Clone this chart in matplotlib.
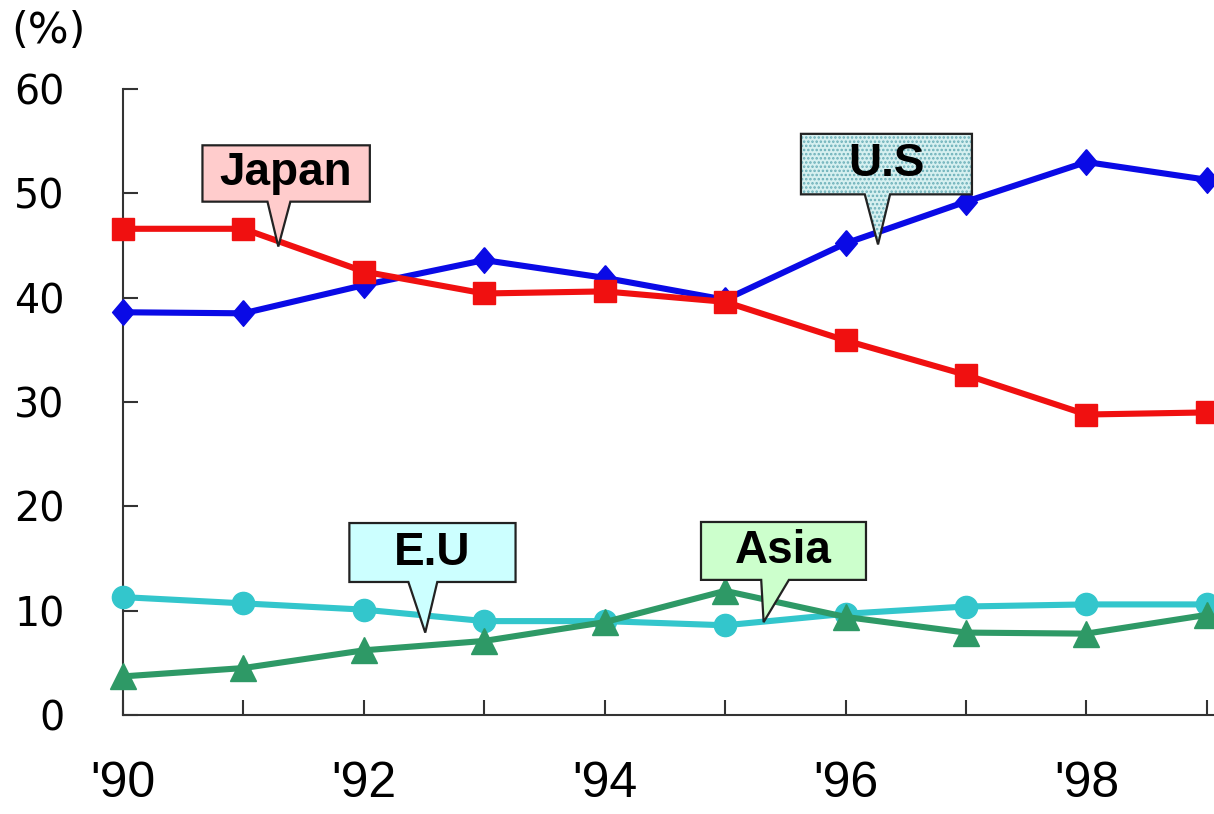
import matplotlib
matplotlib.use("Agg")
import matplotlib.pyplot as plt
from matplotlib.patches import Polygon

plt.rcParams['font.family'] = ['Liberation Sans', 'DejaVu Sans']
plt.rcParams['hatch.linewidth'] = 1.2

# Share of the market by region, 1990-1999 (%)
years = [1990, 1991, 1992, 1993, 1994, 1995, 1996, 1997, 1998, 1999]
us_share = [38.6, 38.5, 41.2, 43.6, 41.9, 39.8, 45.2, 49.2, 53.0, 51.3]
japan_share = [46.6, 46.6, 42.5, 40.4, 40.6, 39.6, 35.9, 32.6, 28.8, 29.0]
eu_share = [11.3, 10.7, 10.1, 9.0, 9.0, 8.6, 9.7, 10.4, 10.6, 10.6]
asia_share = [3.7, 4.5, 6.2, 7.1, 8.9, 11.9, 9.4, 7.9, 7.8, 9.6]

x_tick_labels = ["'90", "", "'92", "", "'94", "", "'96", "", "'98", ""]
y_ticks = [0, 10, 20, 30, 40, 50, 60]

fig = plt.figure(figsize=(12.14, 8.14), dpi=100)
ax = fig.add_axes([0.1013, 0.1216, 0.8987, 0.7691])

diamond = [(0, 1), (0.85, 0), (0, -1), (-0.85, 0), (0, 1)]

ax.plot(years, us_share, color='#0A0AE6', lw=4.4, marker=diamond, ms=18.5,
        mec='#0A0AE6', mfc='#0A0AE6', zorder=3, clip_on=False)
ax.plot(years, japan_share, color='#F01010', lw=4.4, marker='s', ms=16.5,
        mec='#F01010', mfc='#F01010', zorder=4, clip_on=False)
ax.plot(years, eu_share, color='#33C6CC', lw=4.4, marker='o', ms=16,
        mec='#33C6CC', mfc='#33C6CC', zorder=3, clip_on=False)
ax.plot(years, asia_share, color='#2E9966', lw=4.4, marker='^', ms=19,
        mec='#2E9966', mfc='#2E9966', zorder=4, clip_on=False)

ax.set_xlim(1990, 1999.06)
ax.set_ylim(0, 60)
ax.set_xticks(years)
ax.set_xticklabels(x_tick_labels, fontsize=36)
ax.set_yticks(y_ticks)
ax.set_yticklabels([str(v) for v in y_ticks], fontsize=28.5, family='DejaVu Sans')
ax.tick_params(axis='x', direction='in', length=11, width=1.5, color='#333333', pad=33)
ax.tick_params(axis='y', direction='in', length=11, width=1.5, color='#333333', pad=42)
for side in ('top', 'right'):
    ax.spines[side].set_visible(False)
for side in ('left', 'bottom'):
    ax.spines[side].set_color('#333333')
    ax.spines[side].set_linewidth(1.5)

fig.text(0.009, 0.988, '(%)', fontsize=31, family='DejaVu Sans', ha='left', va='top')


def callout(text, box, base, tip, face, hatch=None, hatch_color=None):
    x0, x1, y0, y1 = box
    bl, br = base
    pts = [(x0, y1), (x1, y1), (x1, y0), (br, y0), tip, (bl, y0), (x0, y0)]
    if hatch:
        ax.add_patch(Polygon(pts, closed=True, facecolor=face, edgecolor=hatch_color,
                             hatch=hatch, lw=0, zorder=6, clip_on=False))
        ax.add_patch(Polygon(pts, closed=True, facecolor='none', edgecolor='#222222',
                             lw=1.6, zorder=7, clip_on=False))
    else:
        ax.add_patch(Polygon(pts, closed=True, facecolor=face, edgecolor='#222222',
                             lw=1.6, zorder=6, clip_on=False))
    ax.text((x0 + x1) / 2, (y0 + y1) / 2, text, fontsize=33, fontweight='bold',
            ha='center', va='center', zorder=8)


callout('Japan', (1990.66, 1992.05, 49.2, 54.6), (1991.20, 1991.39), (1991.29, 44.9), '#FFCCCC')
callout('U.S', (1995.63, 1997.05, 49.9, 55.7), (1996.16, 1996.37), (1996.27, 45.1),
        '#D6F0F0', hatch='....', hatch_color='#6AAFB8')
callout('E.U', (1991.88, 1993.26, 12.75, 18.4), (1992.37, 1992.61), (1992.51, 7.9), '#CCFFFF')
callout('Asia', (1994.80, 1996.17, 12.95, 18.5), (1995.30, 1995.53), (1995.32, 8.9), '#CCFFCC')

fig.savefig('out.png', dpi=100)
